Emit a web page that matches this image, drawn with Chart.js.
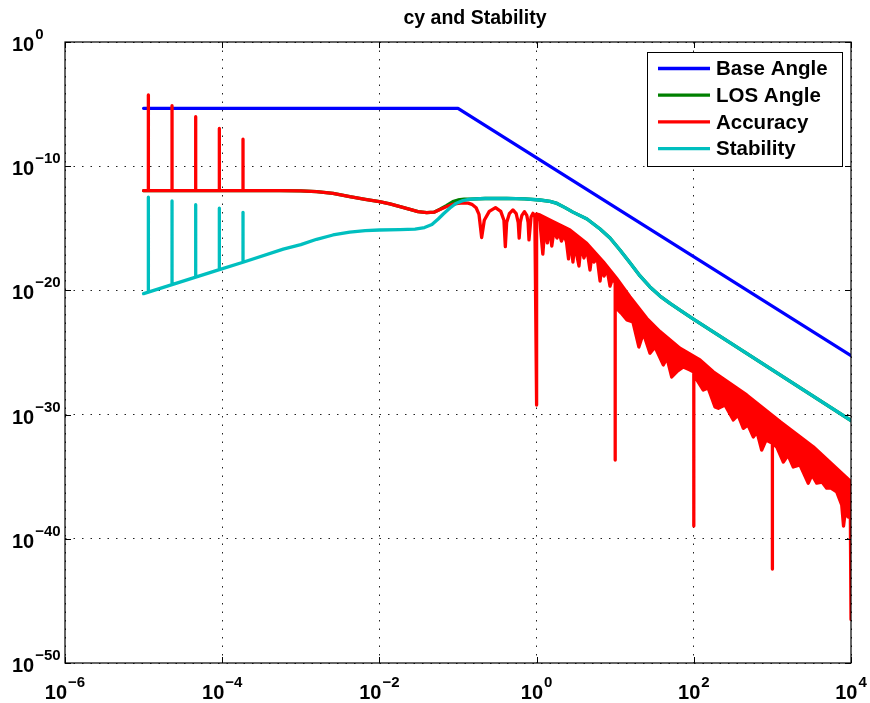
<!DOCTYPE html>
<html>
<head>
<meta charset="utf-8">
<script src="https://cdn.jsdelivr.net/npm/chart.js@4.4.1/dist/chart.umd.min.js"></script>
<style>
  html, body { margin: 0; padding: 0; background: #fff; }
  #wrap { position: relative; width: 870px; height: 703px; }
</style>
</head>
<body>
<div id="wrap"><canvas id="psdChart"></canvas></div>
<script>
// major decades on each axis
var xTicks = [1e-6, 1e-4, 1e-2, 1e0, 1e2, 1e4];
var yTicks = [1e-50, 1e-40, 1e-30, 1e-20, 1e-10, 1e0];

// Base Angle
var baseFreq = [1e-5, 1e-1, 1e4];
var basePsd  = [4.6e-6, 4.6e-6, 5.5e-26];

// LOS Angle
var losFreq = [1e-5, 5.4e-4, 1e-3, 1.59e-3, 2.57e-3, 4.2e-3, 6.6e-3, 1e-2, 1.36e-2, 1.83e-2, 2.45e-2,
               3.1e-2, 4.0e-2, 4.95e-2, 5.9e-2, 7.2e-2, 8.6e-2, 0.1, 0.12,
               0.142, 0.221, 0.417, 0.711, 1.1, 1.48, 1.82, 2.3, 2.9, 4.38, 6.42, 8.59, 11.5, 15.5,
               20.7, 27.7, 37.2, 49.8, 66.7, 100, 1e4];
var losPsd  = [1.07e-12, 1.07e-12, 1.05e-12, 8.9e-13, 6.6e-13, 3.5e-13, 2.1e-13, 1.38e-13, 9.1e-14, 5.5e-14, 3.3e-14,
               2.2e-14, 1.8e-14, 2.0e-14, 3.4e-14, 7.0e-14, 1.4e-13, 1.9e-13, 2.2e-13,
               2.2e-13, 2.5e-13, 2.6e-13, 2.3e-13, 1.9e-13, 1.45e-13, 1.0e-13, 4.6e-14, 2.0e-14, 5.6e-15, 8.7e-16, 1.66e-16, 1.8e-17, 1.6e-18,
               1.45e-19, 1.9e-20, 3.5e-21, 8.9e-22, 2.6e-22, 4.6e-23, 3.3e-31];

// Accuracy, low frequency part and the first ripples
var accFreq = [1e-5,
               1.15e-5, 1.15e-5, 1.15e-5,
               2.3e-5, 2.3e-5, 2.3e-5,
               4.6e-5, 4.6e-5, 4.6e-5,
               9.2e-5, 9.2e-5, 9.2e-5,
               1.84e-4, 1.84e-4, 1.84e-4,
               5.4e-4, 1e-3, 1.59e-3, 2.57e-3, 4.2e-3, 6.6e-3, 1e-2, 1.36e-2, 1.83e-2, 2.45e-2,
               3.1e-2, 4.0e-2, 4.95e-2, 5.9e-2, 7.2e-2, 8.6e-2, 0.1,
               0.12, 0.135, 0.15, 0.17, 0.185, 0.2,
               0.216, 0.25, 0.3, 0.35, 0.384, 0.4,
               0.416, 0.45, 0.5, 0.55, 0.584, 0.6,
               0.62, 0.65, 0.7, 0.75, 0.78, 0.8,
               0.85, 0.9, 0.95, 1.0, 1.0];
var accPsd  = [1.07e-12,
               1.07e-12, 5.4e-5, 1.07e-12,
               1.07e-12, 7.4e-6, 1.07e-12,
               1.07e-12, 9.8e-7, 1.07e-12,
               1.07e-12, 1.1e-7, 1.07e-12,
               1.07e-12, 1.5e-8, 1.07e-12,
               1.07e-12, 1.05e-12, 8.9e-13, 6.6e-13, 3.5e-13, 2.1e-13, 1.38e-13, 9.1e-14, 5.5e-14, 3.3e-14,
               2.2e-14, 1.8e-14, 2.0e-14, 3.3e-14, 5.7e-14, 8.5e-14, 1.0e-13,
               1.1e-13, 1.05e-13, 8.5e-14, 4.5e-14, 1.3e-14, 1.8e-16,
               4.4e-15, 2.3e-14, 4.6e-14, 2.3e-14, 4.4e-15, 3.3e-17,
               2.9e-15, 1.5e-14, 3.0e-14, 1.5e-14, 2.9e-15, 1.6e-16,
               3.0e-15, 1.1e-14, 2.2e-14, 1.1e-14, 3.0e-15, 1.15e-16,
               8.0e-15, 1.6e-14, 8.0e-15, 5.9e-30, 1.4e-14];

// Accuracy above 1 Hz: upper envelope of the dense ripple band
var accTopFreq = [1.0, 1.1, 1.63, 2.66, 4.34, 7.06, 10.4, 15.4, 25.2, 37.2, 66.7, 120, 177, 471, 1250, 3310, 1e4];
var accTopPsd  = [1.4e-14, 1.2e-14, 3.4e-15, 7.3e-16, 6.2e-17, 2.0e-18, 9.4e-20, 3.1e-21, 5.6e-23, 4.8e-24,
                  2.2e-25, 2.5e-26, 2.8e-27, 3.8e-29, 2.7e-31, 2.6e-33, 4.0e-36];

// Accuracy above 1 Hz: ragged lower edge of the band, with the notches
var accLowFreq = [1.0, 1.1, 1.2, 1.28, 1.37, 1.46, 1.56, 1.66, 1.82, 1.93,
                  2.07, 2.23, 2.4, 2.55, 2.7, 2.9, 3.08, 3.26, 3.46, 3.67,
                  4.0, 4.38, 4.78, 5.07, 5.38, 5.9, 6.42, 6.81, 7.21, 7.9,
                  8.59, 9.3, 10, 10, 10, 10.4, 11.9, 14.1,
                  16.8, 20.0, 22.8, 27.7, 32.1, 40.9, 45.6, 52.4, 60.6, 73.5,
                  89.5, 100, 100, 100, 110, 132, 152, 186, 205, 249,
                  318, 365, 427, 490, 571, 637, 731, 830, 1000, 1000,
                  1000, 1135, 1377, 1580, 1845, 2245, 2862, 3190, 3664, 4278,
                  4909, 5570, 6580, 7620, 8035, 8630, 9160, 9800, 1e4];
var accLowPsd  = [1.4e-14, 3.9e-15, 8.5e-18, 1.85e-15, 6.6e-17, 1.26e-15, 3.7e-17, 6.0e-16, 1.66e-16, 5.0e-16,
                  9.5e-17, 2.9e-16, 7.9e-17, 3.4e-18, 1.66e-16, 1.9e-18, 9.5e-17, 5.9e-18, 9.2e-19, 3.7e-17,
                  4.1e-18, 1.8e-17, 4.4e-19, 8.5e-18, 1.9e-18, 4.1e-18, 5.7e-20, 1.35e-18, 1.45e-19, 4.4e-19,
                  2.2e-20, 1.0e-19, 4.0e-20, 2.2e-34, 5.0e-21, 3.6e-22, 1.5e-22, 4.2e-23,
                  2.9e-23, 2.8e-25, 3.5e-24, 8.7e-26, 2.8e-25, 1.0e-26, 3.6e-26, 1.07e-27, 2.8e-27, 6.8e-27,
                  3.9e-27, 2.7e-27, 1.07e-39, 2.7e-27, 6.1e-28, 9.5e-29, 1.4e-28, 4.1e-30, 3.2e-30, 5.9e-30,
                  3.7e-31, 9.3e-31, 7.9e-32, 1.45e-31, 1.6e-32, 4.0e-32, 1.4e-33, 9.0e-33, 5.0e-33, 3.7e-43,
                  5.0e-33, 2.5e-33, 1.5e-34, 5.6e-34, 6.0e-35, 8.7e-35, 3.0e-36, 1.4e-35, 3.0e-36, 3.7e-36,
                  1.2e-36, 1.2e-36, 5.9e-37, 5.3e-38, 1.07e-39, 4.4e-38, 5.7e-39, 3.0e-38, 3.2e-47];

// Stability
var stabFreq = [1e-5,
                1.15e-5, 1.15e-5, 1.15e-5,
                2.3e-5, 2.3e-5, 2.3e-5,
                4.6e-5, 4.6e-5, 4.6e-5,
                9.2e-5, 9.2e-5, 9.2e-5,
                1.84e-4, 1.84e-4, 1.84e-4,
                5.98e-4, 1e-3, 1.59e-3, 2.57e-3, 4.2e-3, 6.6e-3, 1e-2, 1.83e-2, 2.84e-2, 3.75e-2,
                4.66e-2, 5.6e-2, 6.6e-2, 7.9e-2, 9.4e-2, 0.112, 0.142, 0.221, 0.417, 0.711,
                1.1, 1.48, 1.82, 2.3, 2.9, 4.38, 6.42, 8.59, 11.5, 15.5,
                20.7, 27.7, 37.2, 49.8, 66.7, 100, 1e4];
var stabPsd  = [5.5e-21,
                7.3e-21, 3.2e-13, 7.3e-21,
                2.9e-20, 1.6e-13, 2.9e-20,
                1.16e-19, 7.9e-14, 1.16e-19,
                4.7e-19, 4.1e-14, 4.7e-19,
                1.86e-18, 1.95e-14, 1.86e-18,
                2.1e-17, 4.8e-17, 1.3e-16, 2.9e-16, 5.0e-16, 6.4e-16, 7.3e-16, 7.9e-16, 8.7e-16, 1.15e-15,
                2.0e-15, 5.6e-15, 1.55e-14, 4.3e-14, 1.0e-13, 1.6e-13, 2.2e-13, 2.5e-13, 2.6e-13, 2.3e-13,
                1.9e-13, 1.45e-13, 1.0e-13, 4.6e-14, 2.0e-14, 5.6e-15, 8.7e-16, 1.66e-16, 1.8e-17, 1.6e-18,
                1.45e-19, 1.9e-20, 3.5e-21, 8.9e-22, 2.6e-22, 4.6e-23, 3.3e-31];

function pts(xs, ys) {
  return xs.map(function(x, i) { return {x: x, y: ys[i]}; });
}

// band outline: envelope left to right, then lower edge back
var bandPts = pts(accTopFreq, accTopPsd).concat(pts(accLowFreq, accLowPsd).reverse());

var FONT = '"Liberation Sans", Arial, Helvetica, sans-serif';
var LW = 3.3;

function lineSet(label, data, color, order) {
  return {
    label: label, data: data, borderColor: color, backgroundColor: color,
    borderWidth: LW, pointRadius: 0, tension: 0, fill: false, order: order,
    borderJoinStyle: 'round', borderCapStyle: 'round'
  };
}

function powerText(v) {
  var e = Math.round(Math.log10(v));
  return e < 0 ? '\u2212' + (-e) : String(e);
}

// draws "10" with a raised exponent; x is the left edge or the centre
function drawPower(ctx, v, x, y, centred) {
  var exp = powerText(v);
  ctx.font = 'bold 20px ' + FONT;
  var w1 = ctx.measureText('10').width;
  ctx.font = 'bold 15px ' + FONT;
  var w2 = ctx.measureText(exp).width;
  var x0 = centred ? x - (w1 + 1 + w2) / 2 : x;
  ctx.textAlign = 'left';
  ctx.textBaseline = 'alphabetic';
  ctx.font = 'bold 20px ' + FONT;
  ctx.fillText('10', x0, y);
  ctx.font = 'bold 15px ' + FONT;
  ctx.fillText(exp, x0 + w1 + 1, y - 12);
}

var matlabFrame = {
  id: 'matlabFrame',
  afterDraw: function(chart) {
    var ctx = chart.ctx, a = chart.chartArea;
    var sx = chart.scales.x, sy = chart.scales.y;
    ctx.save();

    // axes box and inner tick marks
    ctx.strokeStyle = '#000';
    ctx.lineWidth = 1.2;
    ctx.strokeRect(a.left, a.top, a.right - a.left, a.bottom - a.top);
    ctx.lineWidth = 1;
    ctx.beginPath();
    xTicks.forEach(function(v) {
      var px = Math.round(sx.getPixelForValue(v)) + 0.5;
      ctx.moveTo(px, a.bottom); ctx.lineTo(px, a.bottom - 6);
      ctx.moveTo(px, a.top); ctx.lineTo(px, a.top + 6);
    });
    yTicks.forEach(function(v) {
      var py = Math.round(sy.getPixelForValue(v)) + 0.5;
      ctx.moveTo(a.left, py); ctx.lineTo(a.left + 6, py);
      ctx.moveTo(a.right, py); ctx.lineTo(a.right - 6, py);
    });
    ctx.stroke();

    // tick labels
    ctx.fillStyle = '#000';
    yTicks.forEach(function(v) {
      drawPower(ctx, v, 12, sy.getPixelForValue(v) + 9, false);
    });
    xTicks.forEach(function(v) {
      drawPower(ctx, v, sx.getPixelForValue(v), a.bottom + 36, true);
    });

    // title
    ctx.font = 'bold 19.5px ' + FONT;
    ctx.textAlign = 'center';
    ctx.textBaseline = 'alphabetic';
    ctx.fillText('cy and Stability', 475, 24);

    // legend
    var items = chart.data.datasets.filter(function(d) { return d.label; });
    var bx = a.right - 204, by = a.top + 10, bw = 195, bh = 114;
    ctx.fillStyle = '#fff';
    ctx.fillRect(bx, by, bw, bh);
    ctx.strokeStyle = '#000';
    ctx.lineWidth = 1;
    ctx.strokeRect(bx + 0.5, by + 0.5, bw, bh);
    ctx.font = 'bold 20.5px ' + FONT;
    ctx.textAlign = 'left';
    ctx.textBaseline = 'middle';
    items.forEach(function(d, i) {
      var ry = by + 16.5 + i * 26.7;
      ctx.strokeStyle = d.borderColor;
      ctx.lineWidth = LW;
      ctx.beginPath();
      ctx.moveTo(bx + 11, ry);
      ctx.lineTo(bx + 63, ry);
      ctx.stroke();
      ctx.fillStyle = '#000';
      ctx.fillText(d.label, bx + 69, ry + 1);
    });
    ctx.restore();
  }
};

var band = lineSet('', bandPts, '#ff0000', 1);
band.fill = 'shape';

new Chart('psdChart', {
  type: 'line',
  data: {
    datasets: [
      lineSet('Base Angle', pts(baseFreq, basePsd), '#0000ff', 3),
      lineSet('LOS Angle', pts(losFreq, losPsd), '#008000', 2),
      lineSet('Accuracy', pts(accFreq, accPsd), '#ff0000', 1),
      band,
      lineSet('Stability', pts(stabFreq, stabPsd), '#00bfbf', 0)
    ]
  },
  options: {
    responsive: true,
    maintainAspectRatio: false,
    animation: false,
    events: [],
    layout: { padding: { left: 65, right: 19, top: 42, bottom: 40 } },
    plugins: {
      legend: { display: false },
      title: { display: false },
      tooltip: { enabled: false }
    },
    scales: {
      x: {
        type: 'logarithmic', min: 1e-6, max: 1e4,
        afterBuildTicks: function(s) { s.ticks = xTicks.map(function(v) { return {value: v}; }); },
        ticks: { display: false },
        grid: { color: '#222', lineWidth: 1, drawTicks: false },
        border: { display: false, dash: [1.5, 7] }
      },
      y: {
        type: 'logarithmic', min: 1e-50, max: 1,
        afterBuildTicks: function(s) { s.ticks = yTicks.map(function(v) { return {value: v}; }); },
        ticks: { display: false },
        grid: { color: '#222', lineWidth: 1, drawTicks: false },
        border: { display: false, dash: [1.5, 7] }
      }
    }
  },
  plugins: [matlabFrame]
});
</script>
</body>
</html>
